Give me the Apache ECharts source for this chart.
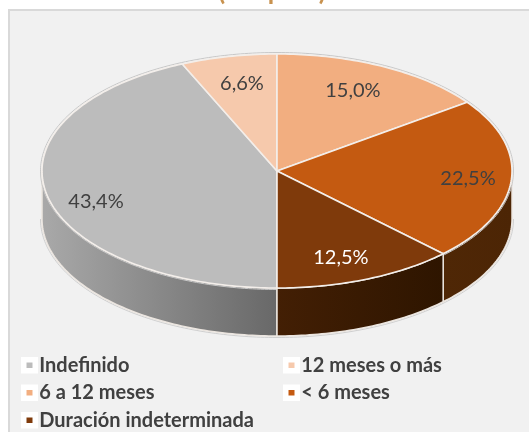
<!DOCTYPE html>
<html>
<head>
<meta charset="utf-8">
<style>html,body{margin:0;padding:0;background:#fff}#c{width:529px;height:432px}</style>
<script src="https://cdn.jsdelivr.net/npm/echarts@6/dist/echarts.min.js"></script>
</head>
<body>
<div id="c"></div>
<script>
const categories = ['Indefinido', '12 meses o más', '6 a 12 meses', '< 6 meses', 'Duración indeterminada'];
const values = [43.4, 6.6, 15.0, 22.5, 12.5];
const valueLabels = ['43,4%', '6,6%', '15,0%', '22,5%', '12,5%'];
const topColors = ['#bcbcbc', '#f6c9ac', '#f2ae80', '#c45a11', '#7f3a0b'];
const legendColumns = [
  ['Indefinido', '6 a 12 meses', 'Duración indeterminada'],
  ['12 meses o más', '< 6 meses']
];
const titleText = '(Grupo 1)';

const sideFills = [
  ['#a9a9a9', '#686868'],
  ['#777777', '#777777'],
  ['#8a5a3a', '#8a5a3a'],
  ['#4f2706', '#4c2505'],
  ['#431f04', '#2e1500']
];
const labelColors = ['#404040', '#404040', '#404040', '#404040', '#ffffff'];
// label anchor relative to the pie centre, as a fraction of each radius
const labelAnchors = [[-0.77, 0.257], [-0.149, -0.744], [0.323, -0.684], [0.813, 0.068], [0.272, 0.743]];

const PIE = { cx: 277, cy: 171, rx: 235, ry: 117, depth: 48, start: 180 };
const total = values.reduce((a, b) => a + b, 0);

function pt(deg, grow, dy) {
  const r = deg * Math.PI / 180;
  return [
    PIE.cx + (PIE.rx + grow) * Math.sin(r),
    PIE.cy - (PIE.ry + grow) * Math.cos(r) + dy
  ];
}
function arc(a0, a1, grow, dy) {
  const pts = [];
  const n = Math.max(2, Math.ceil(Math.abs(a1 - a0)));
  for (let i = 0; i <= n; i++) pts.push(pt(a0 + (a1 - a0) * i / n, grow, dy));
  return pts;
}
function visibleFront(a0, a1) {
  // front half of the disc: angles 90..270, also tested one turn up
  const out = [];
  [0, 360].forEach(t => {
    const s = Math.max(a0, 90 + t), e = Math.min(a1, 270 + t);
    if (e > s) out.push([s, e]);
  });
  return out;
}

function makeRender(idx) {
  return function (params, api) {
    const v = api.value(0);
    let before = 0;
    for (let i = 0; i < idx; i++) before += values[i];
    const a0 = PIE.start + before / total * 360;
    const a1 = a0 + v / total * 360;
    const children = [];
    visibleFront(a0, a1).forEach(([s, e]) => {
      children.push({
        type: 'polyline', silent: true,
        shape: { points: arc(s, e, 1.5, PIE.depth) },
        style: { fill: null, stroke: '#cfcfcf', lineWidth: 1 }
      });
      children.push({
        type: 'polygon', silent: true,
        shape: { points: arc(s, e, 0, 0).concat(arc(e, s, 0, PIE.depth)) },
        style: {
          fill: { type: 'linear', x: 0, y: 0, x2: 1, y2: 0,
            colorStops: [{ offset: 0, color: sideFills[idx][0] }, { offset: 1, color: sideFills[idx][1] }] },
          stroke: '#ece6e0', lineWidth: 1.5
        }
      });
    });
    children.push({
      type: 'polyline', silent: true,
      shape: { points: arc(a0, a1, 1.5, 0) },
      style: { fill: null, stroke: a1 > 270 && a0 < 450 ? '#c8c8c8' : 'rgba(0,0,0,0)', lineWidth: 1 }
    });
    children.push({
      type: 'polygon', silent: true,
      shape: { points: [[PIE.cx, PIE.cy]].concat(arc(a0, a1, 0, 0)) },
      style: { fill: topColors[idx], stroke: '#f3eeea', lineWidth: 1.6, lineJoin: 'round' }
    });
    children.push({
      type: 'text', silent: true,
      style: {
        x: PIE.cx + labelAnchors[idx][0] * PIE.rx,
        y: PIE.cy + labelAnchors[idx][1] * PIE.ry,
        text: valueLabels[idx],
        fill: labelColors[idx],
        font: '20px Lato',
        align: 'center', verticalAlign: 'middle'
      }
    });
    return { type: 'group', children };
  };
}

const legendBase = {
  orient: 'vertical', icon: 'rect', itemWidth: 11.5, itemHeight: 11, itemGap: 7,
  height: 120, selectedMode: false, padding: 0,
  itemStyle: { borderColor: '#ffffff', borderWidth: 5.5 },
  textStyle: { fontFamily: 'Lato', fontWeight: 'bold', fontSize: 20, color: '#404040', lineHeight: 20.5, padding: [0, 0, 0, -1] }
};

const chart = echarts.init(document.getElementById('c'), null, { renderer: 'canvas' });
chart.setOption({
  animation: false,
  backgroundColor: '#ffffff',
  title: {
    text: titleText, left: 272, textAlign: 'center', top: -21, padding: 0,
    textStyle: { fontFamily: 'Lato', fontWeight: 'bold', fontSize: 26, color: '#c8924f' }
  },
  graphic: [{
    type: 'rect', z: -10, silent: true,
    shape: { x: 9, y: 10, width: 540, height: 440 },
    style: { fill: '#f1f1f1', stroke: '#d9d9d9', lineWidth: 2 }
  }],
  legend: [
    Object.assign({}, legendBase, { left: 21, top: 355, data: legendColumns[0] }),
    Object.assign({}, legendBase, { left: 283, top: 355, data: legendColumns[1] })
  ],
  series: categories.map((name, i) => ({
    type: 'custom',
    name,
    coordinateSystem: 'none',
    silent: true,
    clip: false,
    itemStyle: { color: topColors[i] },
    data: [[values[i]]],
    renderItem: makeRender(i)
  }))
});
</script>
</body>
</html>
